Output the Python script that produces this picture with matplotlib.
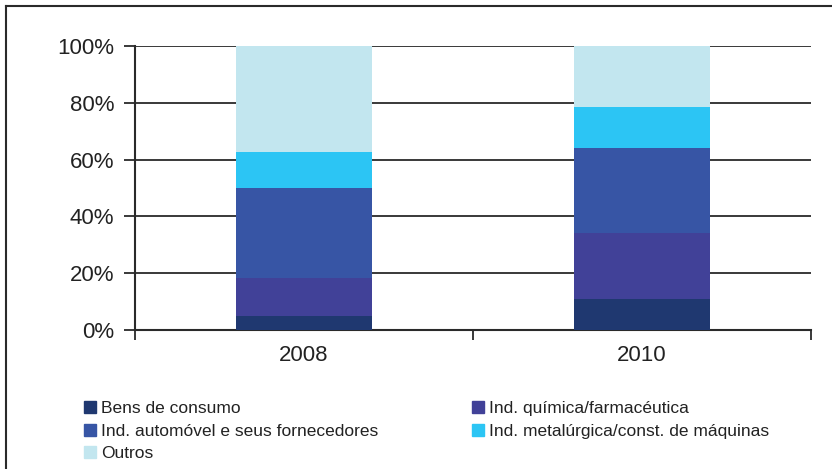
import matplotlib
matplotlib.use("Agg")
import matplotlib.pyplot as plt
from matplotlib.lines import Line2D
from matplotlib.patches import Patch
import numpy as np

plt.rcParams['font.family'] = ['Liberation Sans', 'DejaVu Sans']

# data (shares in %)
years = ['2008', '2010']
categories = ['Bens de consumo', 'Ind. química/farmacéutica',
              'Ind. automóvel e seus fornecedores',
              'Ind. metalúrgica/const. de máquinas', 'Outros']
bens = [4.9, 10.9]
quimica = [13.4, 23.3]
automovel = [31.7, 29.9]
metalurgica = [12.7, 14.4]
outros = [37.3, 21.5]
colors = ['#1f3870', '#414198', '#3755a5', '#2cc5f4', '#c2e6ef']

series = [bens, quimica, automovel, metalurgica, outros]

fig = plt.figure(figsize=(8.32, 4.69), dpi=100)
ax = fig.add_axes([135 / 832, 1 - 330 / 469, 676 / 832, 284 / 469])

x = np.arange(len(years))
bottom = np.zeros(len(years))
for vals, c in zip(series, colors):
    vals = np.array(vals)
    ax.bar(x, vals, 0.405, bottom=bottom, color=c, zorder=3, linewidth=0)
    bottom += vals

ax.set_xlim(-0.5, 1.5)
ax.set_ylim(0, 100)
ax.set_yticks(np.arange(0, 101, 20))
ax.set_yticklabels(['%d%%' % v for v in range(0, 101, 20)], fontsize=16, color='#222222')
ax.yaxis.grid(True, color='#2a2a2a', linewidth=1.3, zorder=0)
ax.tick_params(axis='y', length=8, width=1.3, color='#2a2a2a', pad=7)

ax.set_xticks([-0.5, 0.5, 1.5])
ax.set_xticklabels([])
ax.set_xticks(x, minor=True)
ax.set_xticklabels(years, minor=True, fontsize=16, color='#222222')
ax.tick_params(axis='x', which='major', length=7, width=1.3, color='#2a2a2a')
ax.tick_params(axis='x', which='minor', length=0, pad=11)

for s in ['top', 'right']:
    ax.spines[s].set_visible(False)
for s in ['left', 'bottom']:
    ax.spines[s].set_color('#2a2a2a')
    ax.spines[s].set_linewidth(1.5)

# legend in two columns, row-major order like the original
handles = [Patch(color=c) for c in colors]
leg_kw = dict(loc='upper left', frameon=False, fontsize=12.5, handlelength=0.7,
              handleheight=0.7, handletextpad=0.3, labelspacing=0.43,
              borderpad=0, borderaxespad=0)
leg1 = fig.legend([handles[0], handles[2], handles[4]],
                  [categories[0], categories[2], categories[4]],
                  bbox_to_anchor=(84 / 832, 1 - 401 / 469), **leg_kw)
leg2 = fig.legend([handles[1], handles[3]], [categories[1], categories[3]],
                  bbox_to_anchor=(472 / 832, 1 - 401 / 469), **leg_kw)
for leg in (leg1, leg2):
    for t in leg.get_texts():
        t.set_color('#222222')

# outer frame (only left and top edges are visible)
fig.add_artist(Line2D([6 / 832, 6 / 832], [0, 1 - 6 / 469], transform=fig.transFigure,
                      color='#2a2a2a', linewidth=1.5))
fig.add_artist(Line2D([6 / 832, 1], [1 - 6 / 469, 1 - 6 / 469], transform=fig.transFigure,
                      color='#2a2a2a', linewidth=1.5))

fig.savefig('out.png', dpi=100)
